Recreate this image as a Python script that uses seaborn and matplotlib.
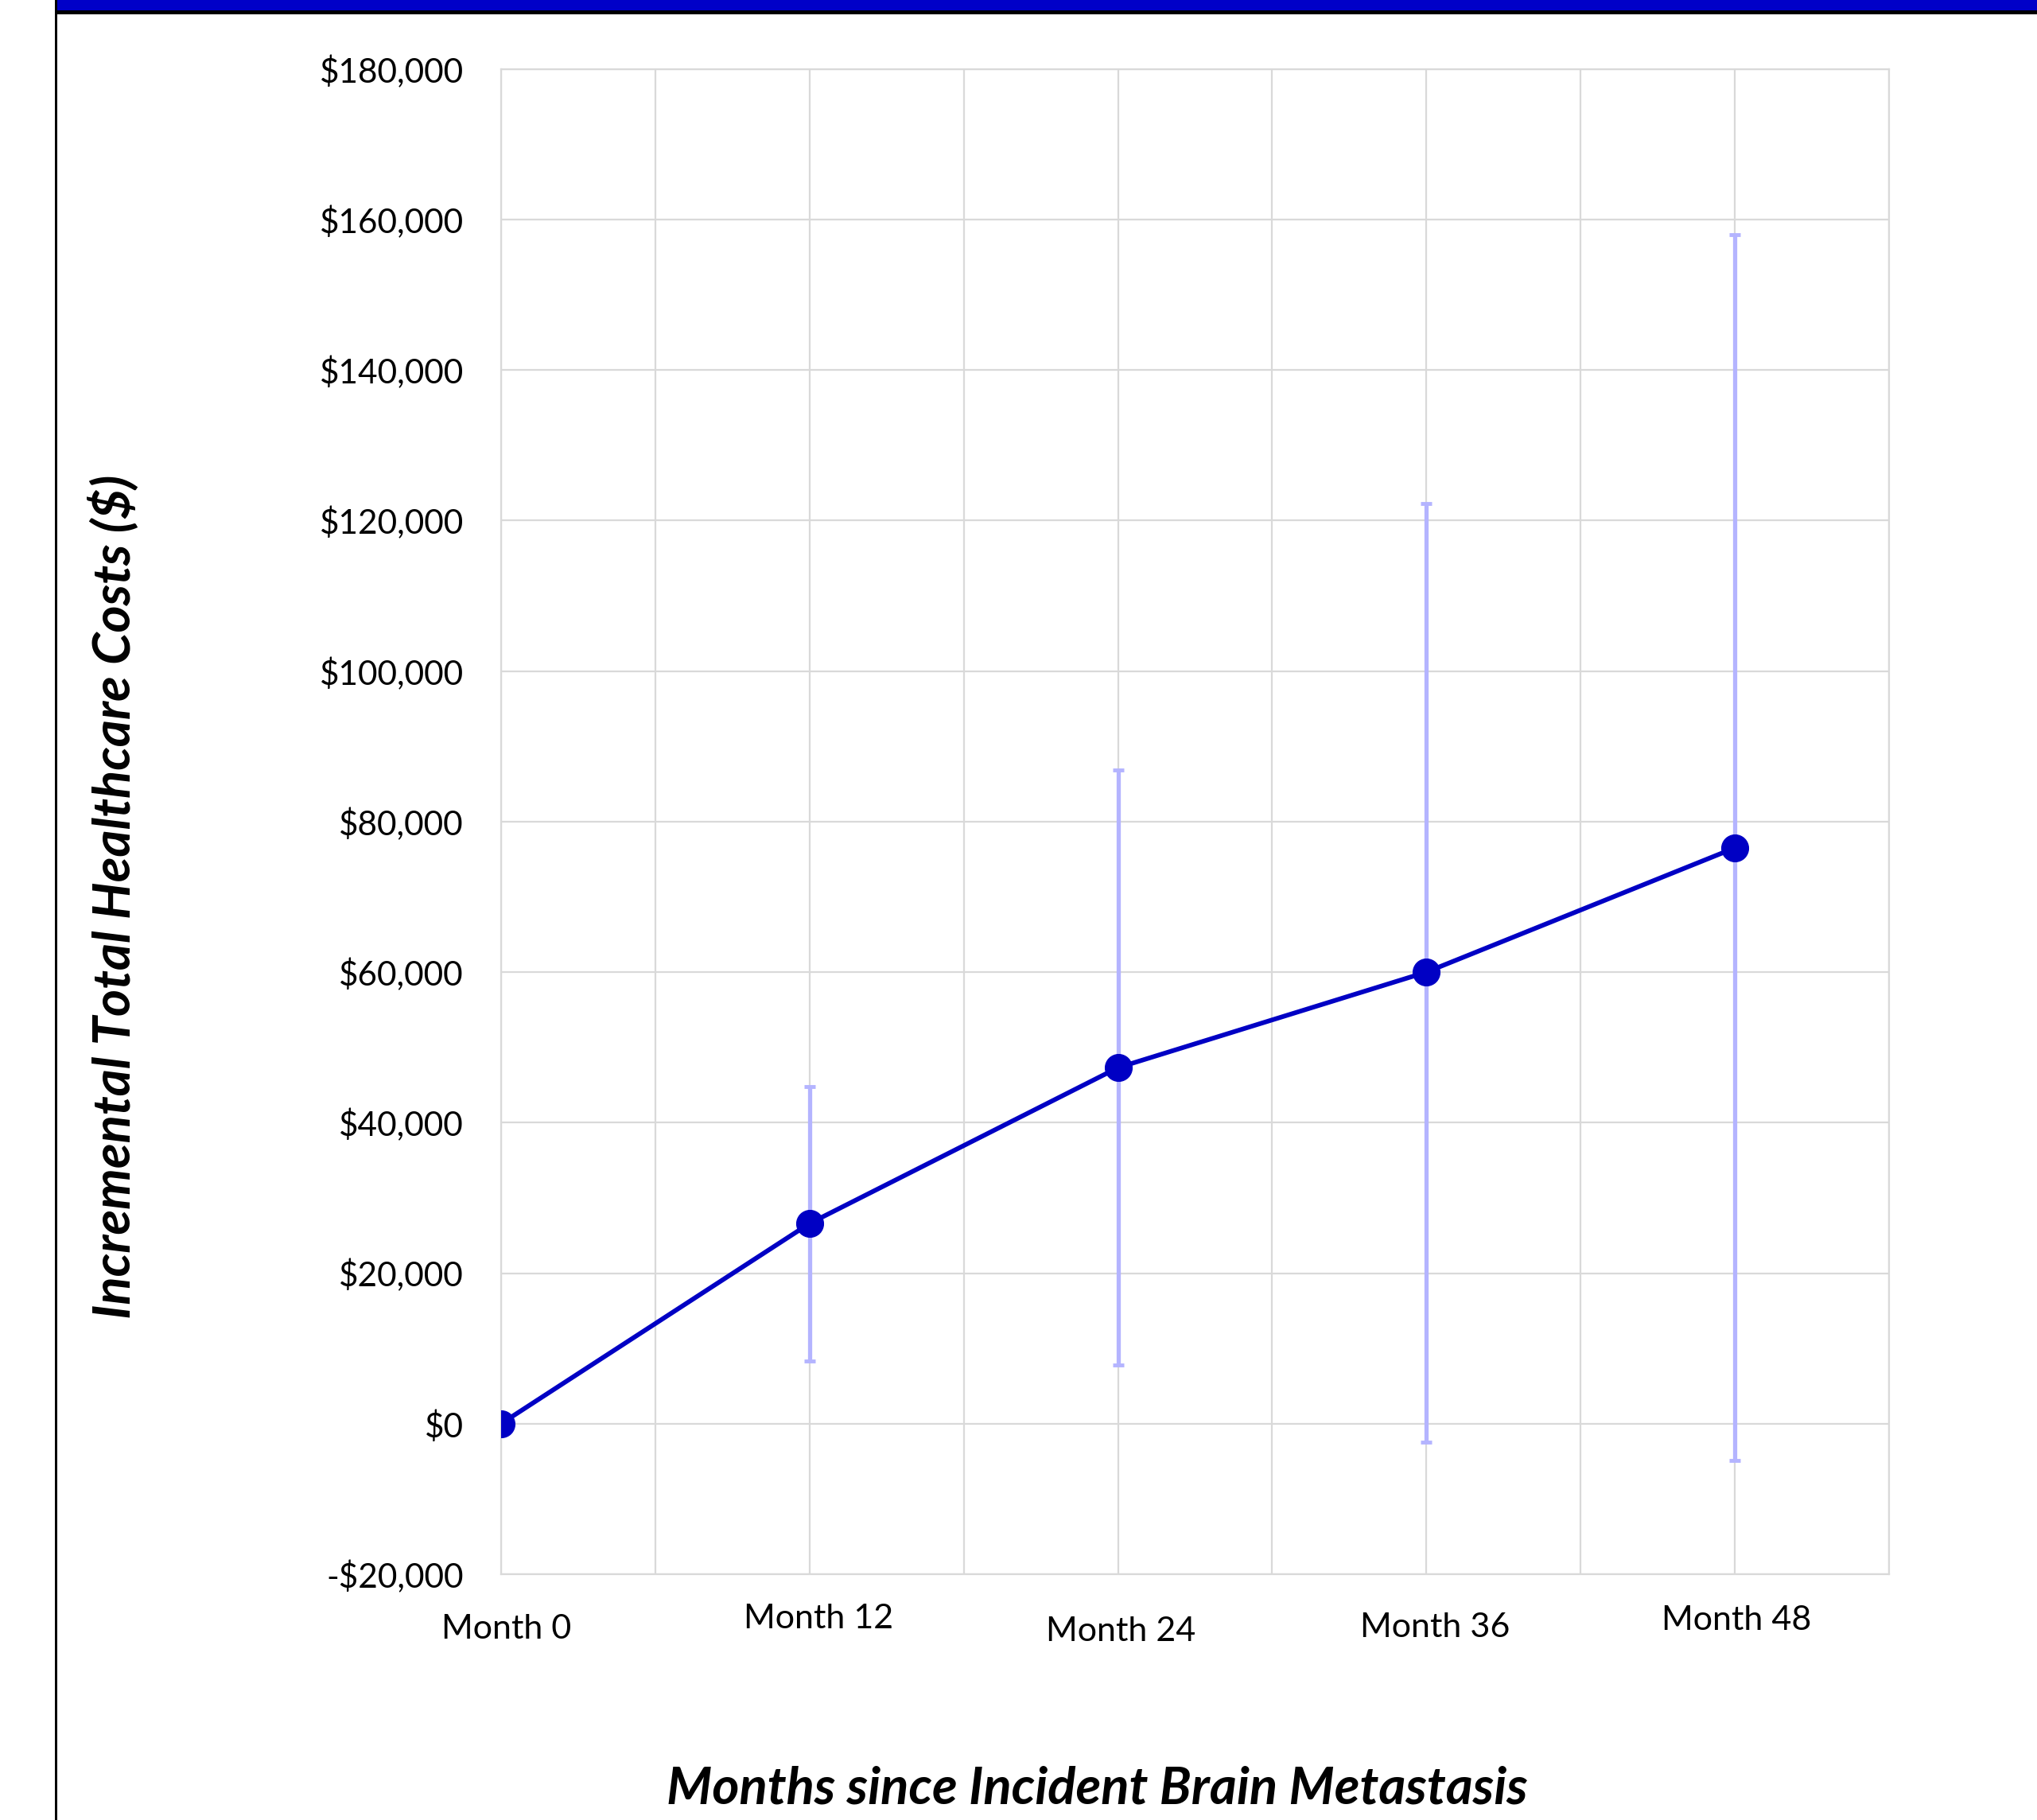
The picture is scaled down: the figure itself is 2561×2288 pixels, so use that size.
import matplotlib
matplotlib.use("Agg")
import matplotlib.pyplot as plt
import matplotlib.transforms as mtransforms
from matplotlib.patches import Rectangle
from matplotlib.ticker import FuncFormatter, MultipleLocator
import numpy as np
import pandas as pd
import seaborn as sns

# Incremental total healthcare costs by month since incident brain metastasis
months = [0, 12, 24, 36, 48]
month_labels = ["Month 0", "Month 12", "Month 24", "Month 36", "Month 48"]
mean_cost = [0, 26600, 47300, 60000, 76500]
ci_low = [0, 8350, 7800, -2450, -4900]
ci_high = [0, 44800, 86900, 122300, 158000]

sns.set_theme(style="white")
plt.rcParams["font.family"] = ["Lato", "DejaVu Sans"]

W, H = 2561, 2288
dpi = 100
fig = plt.figure(figsize=(W / dpi, H / dpi), dpi=dpi)
fig.patch.set_facecolor("white")

ax_left, ax_right = 630 / W, 2375 / W
ax_bottom, ax_top = 1 - 1979 / H, 1 - 86.7 / H
ax = fig.add_axes([ax_left, ax_bottom, ax_right - ax_left, ax_top - ax_bottom])

df = pd.DataFrame({"month": months, "cost": mean_cost})

grid_color = "#d9d9d9"
line_color = "#0000c4"
err_color = "#b4b4ff"

yerr = np.array([
    np.array(mean_cost) - np.array(ci_low),
    np.array(ci_high) - np.array(mean_cost),
])
ax.errorbar(months, mean_cost, yerr=yerr, fmt="none", ecolor=err_color,
            elinewidth=3.8, capsize=4.8, capthick=3.5, zorder=2)

sns.lineplot(data=df, x="month", y="cost", ax=ax, color=line_color,
             linewidth=4.2, marker="o", markersize=24.5,
             markeredgecolor=line_color, markerfacecolor=line_color, zorder=3)

ax.set_xlim(0, 54)
ax.set_ylim(-20000, 180000)
ax.xaxis.set_major_locator(MultipleLocator(6))
ax.yaxis.set_major_locator(MultipleLocator(20000))
ax.grid(True, color=grid_color, linewidth=1.6, zorder=0)
ax.set_axisbelow(True)
for sp in ax.spines.values():
    sp.set_color(grid_color)
    sp.set_linewidth(1.6)

def money(v, pos):
    v = int(round(v))
    return f"-${abs(v):,}" if v < 0 else f"${v:,}"

ax.yaxis.set_major_formatter(FuncFormatter(money))
ax.tick_params(axis="y", length=0, pad=34, labelsize=30.5, labelcolor="black")
ax.tick_params(axis="x", length=0, labelbottom=False)
ax.set_xlabel("")
ax.set_ylabel("")

# Month labels sit at slightly staggered heights below the axis
label_dx = [0.2, 0.35, 0.1, 0.35, 0.05]
label_y = [-0.0362, -0.0294, -0.0379, -0.0352, -0.0309]
trans = mtransforms.blended_transform_factory(ax.transData, ax.transAxes)
for m, lab, dx, yy in zip(months, month_labels, label_dx, label_y):
    ax.text(m + dx, yy, lab, transform=trans, ha="center", va="center",
            fontsize=31, color="black")

fig.text(1379 / W, 1 - 2249 / H, "Months since Incident Brain Metastasis",
         ha="center", va="center", fontsize=47, fontweight="bold",
         fontstyle="italic", color="black")
fig.text(142 / W, 1 - 1127 / H, "Incremental Total Healthcare Costs ($)",
         ha="center", va="center", rotation=90, fontsize=47,
         fontweight="bold", fontstyle="italic", color="black")

# Frame: blue header band, black rule beneath it, black left edge
fig.patches.append(Rectangle((71 / W, 1 - 13 / H), 1, 13 / H,
                             transform=fig.transFigure, facecolor="#0000c8",
                             edgecolor="none", zorder=5))
fig.patches.append(Rectangle((69 / W, 1 - 18 / H), 1, 5 / H,
                             transform=fig.transFigure, facecolor="black",
                             edgecolor="none", zorder=5))
fig.patches.append(Rectangle((69 / W, 0), 3 / W, 1,
                             transform=fig.transFigure, facecolor="black",
                             edgecolor="none", zorder=5))

fig.savefig("out.png", dpi=dpi, facecolor="white")
